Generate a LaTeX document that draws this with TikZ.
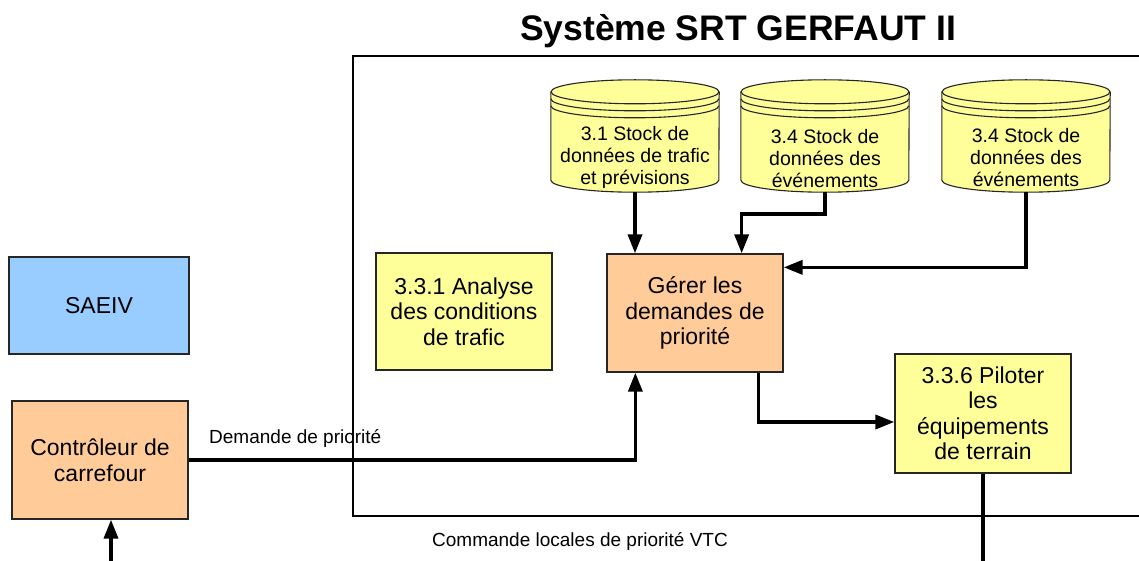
\documentclass[tikz,border=0pt]{standalone}
\usepackage{fontspec}
\setmainfont{Liberation Sans}
\usetikzlibrary{arrows.meta}
\definecolor{boxyellow}{HTML}{FFFF99}
\definecolor{boxpeach}{HTML}{FFCC99}
\definecolor{boxblue}{HTML}{99CCFF}
\newcommand\cylpic[1]{%
  \fill[boxyellow] ([yshift=-12pt]#1.north west) -- ([yshift=12pt]#1.south west)
    arc[start angle=180,end angle=360,x radius=84pt,y radius=12pt]
    -- ([yshift=-12pt]#1.north east)
    arc[start angle=0,end angle=180,x radius=84pt,y radius=12pt] -- cycle;
  \draw[cylline] ([yshift=-12pt]#1.north west) -- ([yshift=12pt]#1.south west)
    arc[start angle=180,end angle=360,x radius=84pt,y radius=12pt]
    -- ([yshift=-12pt]#1.north east);
  \draw[cylline] ([yshift=-12pt]#1.north) ellipse[x radius=84pt,y radius=12pt];
  \draw[cylline] ([yshift=-19pt]#1.north west)
    arc[start angle=180,end angle=360,x radius=84pt,y radius=12pt];
  \draw[cylline] ([yshift=-26pt]#1.north west)
    arc[start angle=180,end angle=360,x radius=84pt,y radius=12pt];
}
\begin{document}
\begin{tikzpicture}[x=1pt,y=1pt,
  proc/.style={draw=black!85, line width=1.3pt, align=center, inner sep=0pt,
    font=\fontsize{23}{25.5}\selectfont},
  cylbody/.style={minimum width=168pt, minimum height=112pt, inner sep=0pt, draw=none},
  cylline/.style={line width=1.1pt, draw=black!85},
  cyltxt/.style={align=center, font=\fontsize{19.5}{22}\selectfont, inner sep=0pt},
  conn/.style={line width=3.6pt, -{Triangle[length=19pt,width=14pt]}},
  plainconn/.style={line width=3.6pt},
  lbl/.style={font=\fontsize{19}{22}\selectfont, inner sep=0pt},
  frameline/.style={line width=1.2pt}
]
\useasboundingbox (0,0) rectangle (1139,-561);

% title
\node[font=\bfseries\fontsize{35.5}{40}\selectfont] (title) at (738,-31) {Système SRT GERFAUT II};

% system frame
\draw[frameline] (1150,-56) -- (353,-56) -- (353,-516) -- (1150,-516);

% cylinders
\node[cylbody] (c1) at (635,-136) {};
\node[cylbody] (c2) at (825,-136) {};
\node[cylbody] (c3) at (1026,-136) {};
\cylpic{c1}
\cylpic{c2}
\cylpic{c3}
\node[cyltxt] (c1t) at (635,-157) {3.1 Stock de\\données de trafic\\et prévisions};
\node[cyltxt] (c2t) at (825,-159) {3.4 Stock de\\données des\\événements};
\node[cyltxt] (c3t) at (1026,-158) {3.4 Stock de\\données des\\événements};

% boxes
\node[proc, fill=boxblue, minimum width=180pt, minimum height=97pt] (saeiv) at (99,-305.5) {SAEIV};
\node[proc, fill=boxpeach, minimum width=176pt, minimum height=118pt] (ctrl) at (100,-460) {Contrôleur de\\carrefour};
\node[proc, fill=boxyellow, minimum width=176pt, minimum height=117pt] (a331) at (464,-311.5) {3.3.1 Analyse\\des conditions\\de trafic};
\node[proc, fill=boxpeach, minimum width=176pt, minimum height=118pt] (g) at (695,-313) {Gérer les\\demandes de\\priorité};
\node[proc, fill=boxyellow, minimum width=176pt, minimum height=119pt] (p) at (983,-413.5) {3.3.6 Piloter\\les\\équipements\\de terrain};

% free ends
\coordinate (pout) at (983,-566);
\coordinate (cin) at (111,-566);

% connectors
\draw[conn] (c1.south) -- (c1.south |- g.north);
\draw[conn] (c2.south) -- ++(0,-22) -| ([xshift=-42pt]g.north east);
\draw[conn] (c3.south) |- ([yshift=-14pt]g.north east);
\draw[conn] ([xshift=-25pt]g.south east) |- ([yshift=-8.5pt]p.west);
\draw[conn] (ctrl.east) -| ([xshift=29pt]g.south west);
\draw[plainconn] (p.south) -- (pout);
\draw[conn] (cin) -- ([xshift=11pt]ctrl.south);

% labels
\node[lbl, anchor=west] (l1) at (209,-438) {Demande de priorité};
\node[lbl] (l2) at (580,-541) {Commande locales de priorité VTC};
\end{tikzpicture}
\end{document}
